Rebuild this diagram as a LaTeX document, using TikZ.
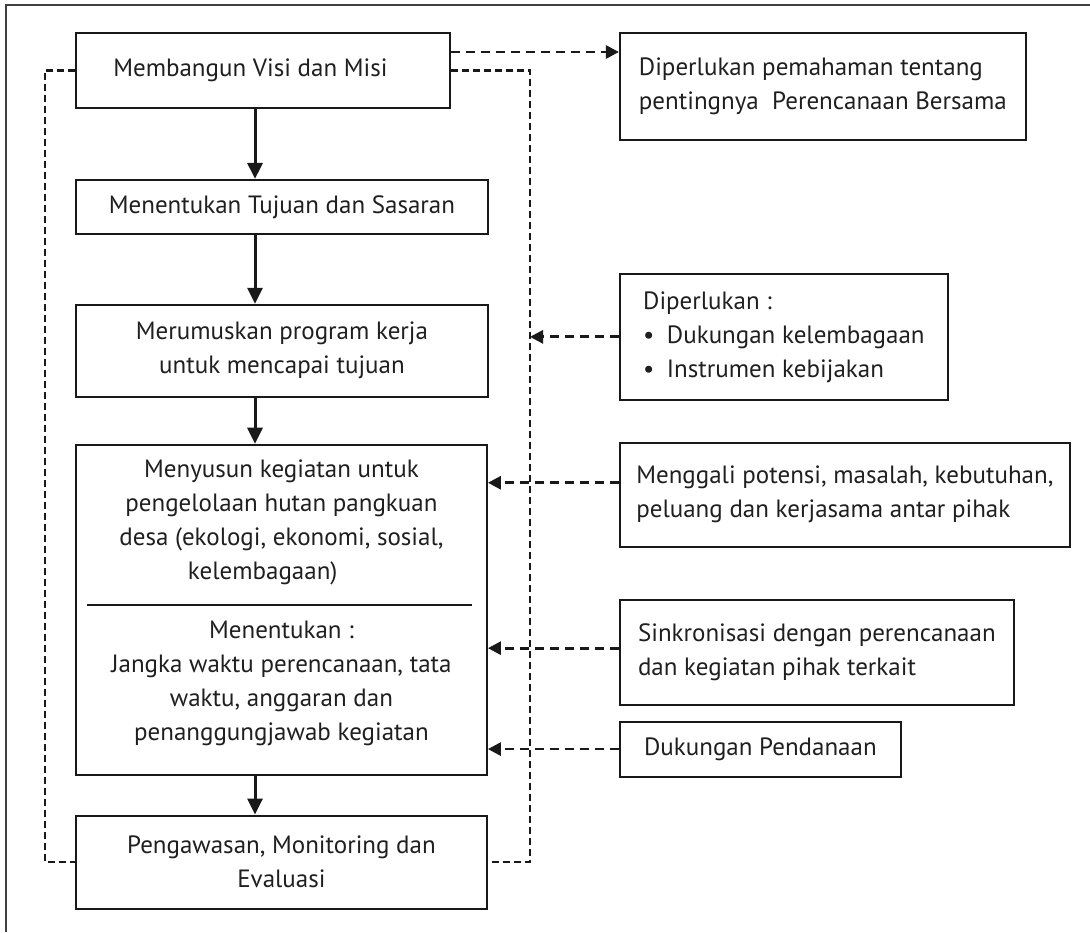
\documentclass[tikz,border=0pt]{standalone}
\usepackage{fontspec}
\setmainfont{PT Sans}
\usetikzlibrary{shapes,arrows.meta,positioning,calc}

\begin{document}
\begin{tikzpicture}[x=0.5pt, y=-0.5pt]
    \tikzstyle{stepbox} = [draw=black!90, line width=0.95pt, rectangle, align=center, inner sep=0pt, text=black!88, font=\fontsize{12.5}{17}\selectfont]
    \tikzstyle{notebox} = [draw=black!90, line width=0.95pt, rectangle, align=left, inner sep=0pt, text=black!88, font=\fontsize{12.5}{17}\selectfont]
    \tikzstyle{textonly} = [align=center, inner sep=0pt, text=black!88, font=\fontsize{12.5}{17}\selectfont]
    \tikzstyle{flowarrow} = [-{Triangle[length=8pt,width=7.5pt]}, line width=1.5pt, black!90]
    \tikzstyle{needarrow} = [-{Triangle[length=6.5pt,width=6.5pt]}, line width=1.4pt, dash pattern=on 4.5pt off 3pt, black!90]
    \tikzstyle{feedback} = [line width=1.2pt, dash pattern=on 3.5pt off 2pt, black!90]

    \useasboundingbox (0,0) rectangle (1090,932);
    \draw [line width=0.9pt, black!75] (1090,5) -- (6,5) -- (6,932);

    % main column
    \node [stepbox, minimum width=187pt, minimum height=37.5pt, anchor=north west] (visi) at (75,32) {Membangun Visi dan Misi\hspace*{1em}};
    \node [stepbox, minimum width=206pt, minimum height=27pt, below=35pt of visi.south west, anchor=north west] (tujuan) {Menentukan Tujuan dan Sasaran};
    \node [stepbox, minimum width=206pt, minimum height=46pt, below=34.5pt of tujuan.south west, anchor=north west] (rumus) {Merumuskan program kerja\\untuk mencapai tujuan};
    \node [stepbox, minimum width=205.5pt, minimum height=165pt, below=23pt of rumus.south west, anchor=north west] (susun) {};
    \node [textonly] (susunatas) at ([yshift=-39.5pt]susun.north) {Menyusun kegiatan untuk\\pengelolaan hutan pangkuan\\desa (ekologi, ekonomi, sosial,\\kelembagaan)\hspace*{1.5em}};
    \node [textonly] (susunbawah) at ([yshift=-120pt]susun.north) {Menentukan :\\Jangka waktu perencanaan, tata\\waktu, anggaran dan\\penanggungjawab kegiatan};
    \draw [line width=0.95pt, black!90] ([xshift=6pt,yshift=-80.5pt]susun.north west) -- ([xshift=-8pt,yshift=-80.5pt]susun.north east);
    \node [stepbox, minimum width=205.5pt, minimum height=46.5pt, below=19.5pt of susun.south west, anchor=north west] (awas) {Pengawasan, Monitoring dan\\Evaluasi};

    % side notes
    \node [notebox, minimum width=203pt, minimum height=53.5pt, right=84pt of visi.north east, anchor=north west] (paham) {Diperlukan pemahaman tentang\\pentingnya~ Perencanaan Bersama};
    \node [notebox, minimum width=164pt, minimum height=63pt, below=66pt of paham.south west, anchor=north west] (dukung) {Diperlukan :\\\textbullet\enspace Dukungan kelembagaan\\\textbullet\enspace Instrumen kebijakan};
    \node [notebox, minimum width=225pt, minimum height=52pt, below=20.5pt of dukung.south west, anchor=north west] (gali) {Menggali potensi, masalah, kebutuhan,\\peluang dan kerjasama antar pihak};
    \node [notebox, minimum width=197pt, minimum height=52.5pt, below=25.5pt of gali.south west, anchor=north west] (sinkron) {Sinkronisasi dengan perencanaan\\dan kegiatan pihak terkait};
    \node [notebox, minimum width=140.5pt, minimum height=27.5pt, below=7.5pt of sinkron.south west, anchor=north west] (dana) {Dukungan Pendanaan};

    \coordinate (kiri) at (45,0);
    \coordinate (kanan) at (530,0);
    \coordinate (poros) at (255,0);
    \coordinate (visiout) at ([yshift=-10pt]visi.north east);
    \coordinate (galiout) at ([yshift=6pt]gali.west);
    \coordinate (sinkronout) at ([yshift=2pt]sinkron.west);

    \draw [flowarrow] (visi.south -| poros) -- (tujuan.north -| poros);
    \draw [flowarrow] (tujuan.south -| poros) -- (rumus.north -| poros);
    \draw [flowarrow] (rumus.south -| poros) -- (susun.north -| poros);
    \draw [flowarrow] (susun.south -| poros) -- (awas.north -| poros);

    \draw [feedback] (visi.west) -- (visi.west -| kiri) -- (awas.west -| kiri) -- (awas.west);
    \draw [feedback] (visi.east) -- (visi.east -| kanan) -- (awas.east -| kanan) -- (awas.east);

    \draw [needarrow] (visiout) -- (visiout -| paham.west);
    \draw [needarrow] (dukung.west) -- (dukung.west -| kanan);
    \draw [needarrow] (galiout) -- (galiout -| susun.east);
    \draw [needarrow] (sinkronout) -- (sinkronout -| susun.east);
    \draw [needarrow] (dana.west) -- (dana.west -| susun.east);
\end{tikzpicture}
\end{document}
